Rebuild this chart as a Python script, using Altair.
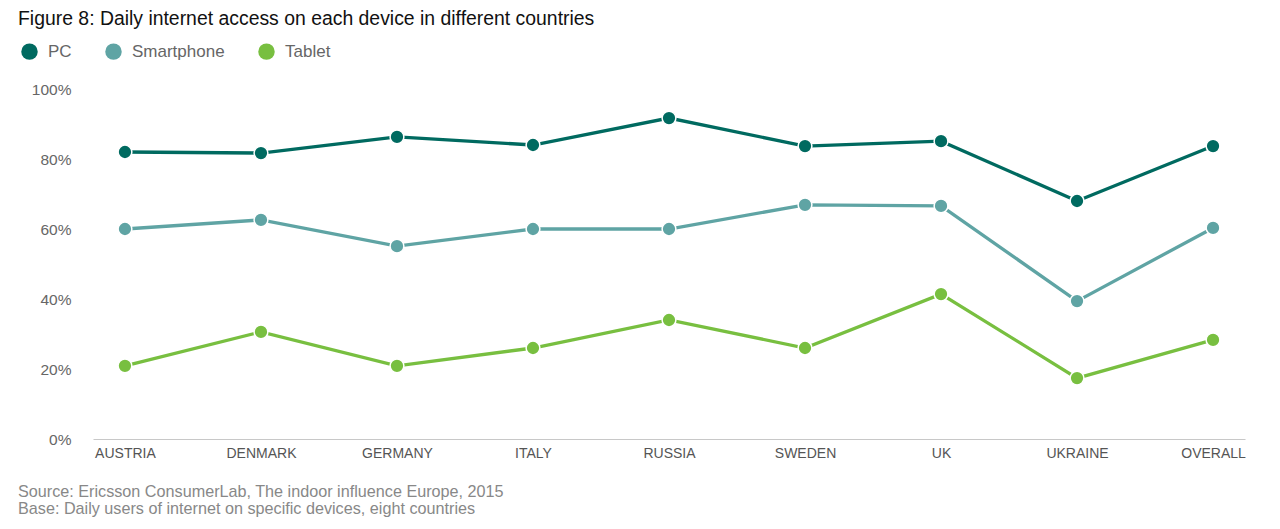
import altair as alt
import pandas as pd

countries = ["AUSTRIA", "DENMARK", "GERMANY", "ITALY", "RUSSIA", "SWEDEN", "UK", "UKRAINE", "OVERALL"]
devices = ["PC", "Smartphone", "Tablet"]
pc = [82, 81.7, 86.3, 84, 91.7, 83.7, 85.1, 68, 83.7]
smartphone = [60, 62.6, 55.1, 60, 60, 66.9, 66.6, 39.4, 60.3]
tablet = [20.9, 30.6, 20.9, 26, 34, 26, 41.4, 17.4, 28.3]
colors = ["#006a60", "#5fa4a4", "#78bf40"]
title_text = "Figure 8: Daily internet access on each device in different countries"
footnotes = ["Source: Ericsson ConsumerLab, The indoor influence Europe, 2015",
             "Base: Daily users of internet on specific devices, eight countries"]

rows = []
for dev, vals in zip(devices, [pc, smartphone, tablet]):
    for c, v in zip(countries, vals):
        rows.append({"country": c, "device": dev, "value": v})
df = pd.DataFrame(rows)

FONT = "Liberation Sans, Arial, Helvetica, sans-serif"

x = alt.X("country:N", sort=countries,
          scale=alt.Scale(type="point", padding=0.235),
          axis=alt.Axis(title=None, labelAngle=0, ticks=False, domainColor="#c8c8c8",
                        domainWidth=1.2, labelColor="#555555", labelFontSize=14,
                        labelFont=FONT, labelPadding=7, grid=False))
y = alt.Y("value:Q", scale=alt.Scale(domain=[0, 100], nice=False),
          axis=alt.Axis(title=None, values=[0, 20, 40, 60, 80, 100], labelExpr="datum.value + '%'",
                        domain=False, ticks=False, grid=False, labelColor="#666666",
                        labelFontSize=15.5, labelFont=FONT, labelPadding=22))
color = alt.Color("device:N", sort=devices,
                  scale=alt.Scale(domain=devices, range=colors),
                  legend=alt.Legend(title=None, orient="none", direction="horizontal",
                                    legendX=-72, legendY=-46, symbolType="circle",
                                    symbolSize=270, symbolStrokeWidth=0, labelFontSize=17,
                                    labelColor="#666666", labelFont=FONT, labelOffset=10,
                                    columnPadding=33))

base = alt.Chart(df).encode(x=x, y=y, color=color)
lines = base.mark_line(strokeWidth=3.3)
points = base.mark_point(filled=True, size=190, opacity=1, stroke="white", strokeWidth=1.5).encode(
    stroke=alt.value("white"))

foot = alt.Chart(pd.DataFrame({"t": ["\n".join(footnotes)]})).mark_text(
    align="left", baseline="top", lineBreak="\n", lineHeight=17, fontSize=16.2,
    font=FONT, color="#888888").encode(
    text="t:N", x=alt.value(-75), y=alt.value(395))

chart = alt.layer(lines, points, foot).properties(
    width=1152, height=350,
    title=alt.TitleParams(title_text, anchor="start", frame="group", dx=-75, fontSize=19.4,
                          font=FONT, fontWeight="normal", color="#111111", offset=14),
    autosize=alt.AutoSizeParams(type="none"),
    padding={"left": 85, "top": 81, "right": 27, "bottom": 80},
).configure_view(stroke=None)

chart.save("out.html", embed_options={"renderer": "svg", "actions": False})
